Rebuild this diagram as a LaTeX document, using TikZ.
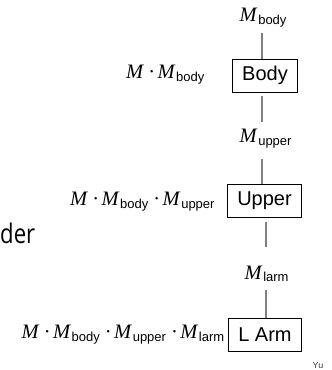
\documentclass[tikz,border=0pt]{standalone}
\usepackage{fontspec}
\setsansfont{Liberation Sans}
\newfontfamily\osans{Open Sans}
\newfontfamily\tms{Liberation Serif}
\newcommand\Mv[1]{{\tms\itshape M}\hspace{1.5pt}\raisebox{-2.8pt}{\fontsize{13}{13}\selectfont\sffamily #1}}
\newcommand\Mm{{\tms\itshape M}}
\newcommand\dt{\hspace{5pt}{\tms ·}\hspace{2.5pt}}
\begin{document}
\begin{tikzpicture}[x=1pt,y=-1pt,
  conn/.style={draw=black!50,line width=1.5pt},
  boxnode/.style={draw=black,line width=0.9pt,inner xsep=9.5pt,inner ysep=0pt,minimum height=33pt,font=\sffamily\fontsize{20}{22}\selectfont},
  mlabel/.style={inner sep=0pt,anchor=base west,font=\fontsize{20.5}{22}\selectfont}]
\useasboundingbox (0,0) rectangle (332,370);
% boxes
\node[boxnode] (body) at (265,75.5) {Body};
\node[boxnode] (upper) at (264.5,200.7) {Upper};
\node[boxnode] (larm) at (265,335) {L Arm};
% edge labels
\node[mlabel] (mbody) at (239.5,21.5) {\Mv{body}};
\node[mlabel] (mupper) at (239.5,142.5) {\Mv{upper}};
\node[mlabel] (mlarm) at (244.5,279) {\Mv{larm}};
% side labels
\node[mlabel] (cbody) at (126,78.3) {\Mm\dt\Mv{body}};
\node[mlabel] (cupper) at (70,205.7) {\Mm\dt\Mv{body}\dt\Mv{upper}};
\node[mlabel] (clarm) at (21.5,338.3) {\Mm\dt\Mv{body}\dt\Mv{upper}\dt\Mv{larm}};
% stray texts
\node[inner sep=0pt,anchor=base west,font=\osans\fontsize{27}{30}\selectfont] (der) at (0,243) {\scalebox{0.82}[1]{der}};
\node[inner sep=0pt,anchor=base,text=black!75,font=\sffamily\fontsize{9}{10}\selectfont] (yu) at (318,368.5) {Yu};
% connectors
\draw[conn] (262,33) coordinate (a1) -- (a1 |- body.north);
\draw[conn] (262,96) coordinate (a2) -- (262,121.7) coordinate (a3);
\draw[conn] (262,159) coordinate (a4) -- (a4 |- upper.north);
\draw[conn] (266,222.3) coordinate (a5) -- (266,246.7) coordinate (a6);
\draw[conn] (266,290) coordinate (a7) -- (a7 |- larm.north);
\end{tikzpicture}
\end{document}
